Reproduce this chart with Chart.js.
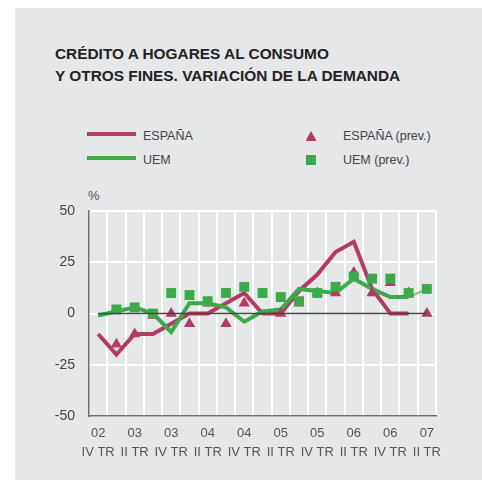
<!DOCTYPE html>
<html lang="es">
<head>
  <meta charset="UTF-8">
  <title>Crédito a hogares al consumo</title>
  <script src="https://cdn.jsdelivr.net/npm/chart.js"></script>
  <style>
    body { margin: 0; background: #fff; width: 482px; height: 495px; position: relative; overflow: hidden;
           font-family: "Liberation Sans", Arial, sans-serif; }
    #panel { position: absolute; left: 15px; top: 8px; width: 467px; height: 472px; background: #e6e7e8; }
    #titulo { position: absolute; left: 55px; top: 43px; font-size: 15.4px; font-weight: bold; line-height: 21.7px; color: #222; }
    .leg { position: absolute; font-size: 12.5px; line-height: 12.5px; color: #444; white-space: nowrap; }
    .linea { position: absolute; height: 4px; width: 49px; }
    #pct { position: absolute; left: 88px; top: 189px; font-size: 13px; line-height: 13px; color: #555; }
    canvas { position: absolute; left: 0; top: 0; }
  </style>
</head>
<body>
  <div id="panel"></div>
  <div id="titulo">CRÉDITO A HOGARES AL CONSUMO<br>Y OTROS FINES. VARIACIÓN DE LA DEMANDA</div>

  <!-- leyenda -->
  <div class="linea" style="left:87px; top:131.7px; background:#b43b62;"></div>
  <div class="leg" style="left:143px; top:130.4px;">ESPAÑA</div>
  <div class="linea" style="left:87px; top:155.7px; background:#3bab4a;"></div>
  <div class="leg" style="left:143px; top:154.4px;">UEM</div>
  <div style="position:absolute; left:305.5px; top:131px; width:11px; height:10px; background:#b43b62; clip-path: polygon(50% 0, 100% 100%, 0 100%);"></div>
  <div class="leg" style="left:343px; top:130.4px;">ESPAÑA (prev.)</div>
  <div style="position:absolute; left:305.7px; top:155px; width:10px; height:10px; background:#3bab4a;"></div>
  <div class="leg" style="left:343px; top:154.4px;">UEM (prev.)</div>

  <div id="pct">%</div>
  <canvas id="grafico" width="482" height="495"></canvas>

  <script>
    // Trimestres (2002 IV TR - 2007 II TR)
    const anos = ['02','03','03','03','03','04','04','04','04','05','05','05','05','06','06','06','06','07','07'];
    const trimestres = ['IV TR','I TR','II TR','III TR','IV TR','I TR','II TR','III TR','IV TR','I TR','II TR','III TR','IV TR','I TR','II TR','III TR','IV TR','I TR','II TR'];

    // Series (%)
    const espana     = [-10, -20, -10, -10, -5, 0, 0, 5, 10, 0, 0, 11, 19, 30, 35, 12, 0, 0, null];
    const uem        = [-1, 1, 3, 0, -9, 5, 5, 3, -4, 1, 2, 12, 11, 10, 17, 12, 8, 8, 12];
    const espanaPrev = [null, -15, -10, -1, 0, -5, 5, -5, 5, null, 0, 5, 10, 10, 20, 10, 15, 10, 0];
    const uemPrev    = [null, 2, 3, 0, 10, 9, 6, 10, 13, 10, 8, 6, 10, 13, 18, 17, 17, 10, 12];
    const lineaCero  = [0, 0, 0, 0, 0, 0, 0, 0, 0, 0, 0, 0, 0, 0, 0, 0, 0, 0, 0];

    const ticksY = [50, 25, 0, -25, -50];

    const rojo = '#b43b62';
    const verde = '#3bab4a';

    const labels = anos.map((a, i) => a + ' ' + trimestres[i]);

    new Chart(document.getElementById('grafico'), {
      type: 'line',
      data: {
        labels,
        datasets: [
          { data: lineaCero, borderColor: '#444', borderWidth: 1.5, pointRadius: 0, order: 0 },
          { data: uemPrev, showLine: false, pointStyle: 'rect', pointRadius: 7, pointBorderWidth: 0,
            pointBackgroundColor: verde, order: 1 },
          { data: espanaPrev, showLine: false, pointStyle: 'triangle', pointRadius: 6.5, pointBorderWidth: 0,
            pointBackgroundColor: rojo, order: 2 },
          { data: uem, borderColor: verde, borderWidth: 4, pointRadius: 0, borderJoinStyle: 'miter', order: 3,
            segment: {
              borderWidth: ctx => ctx.p1DataIndex === 18 ? 2 : 4,
              borderColor: ctx => ctx.p1DataIndex === 18 ? '#74c580' : verde
            } },
          { data: espana, borderColor: rojo, borderWidth: 4, pointRadius: 0, borderJoinStyle: 'miter', order: 4 }
        ]
      },
      options: {
        responsive: false,
        animation: false,
        devicePixelRatio: 1,
        layout: { padding: { left: 0, top: 211, right: 46, bottom: 0 } },
        plugins: { legend: { display: false }, tooltip: { enabled: false } },
        scales: {
          x: {
            offset: true,
            afterFit: s => { s.height = 79; },
            grid: { offset: true, color: '#fff', lineWidth: 2, drawTicks: false },
            border: { color: '#6d6d6d', width: 1.5 },
            ticks: {
              autoSkip: false, maxRotation: 0, padding: 8, color: '#555',
              font: { family: 'Liberation Sans', size: 13, lineHeight: 1.45 },
              callback: (v, i) => i % 2 === 0 ? [anos[i], trimestres[i]] : ''
            }
          },
          y: {
            min: -50, max: 50,
            afterFit: s => { s.width = 89; },
            afterBuildTicks: s => { s.ticks = ticksY.map(v => ({ value: v })); },
            grid: { color: '#fff', lineWidth: 2, drawTicks: false },
            border: { color: '#6d6d6d', width: 1.5 },
            ticks: { padding: 14, color: '#444', font: { family: 'Liberation Sans', size: 14 } }
          }
        }
      }
    });
  </script>
</body>
</html>
